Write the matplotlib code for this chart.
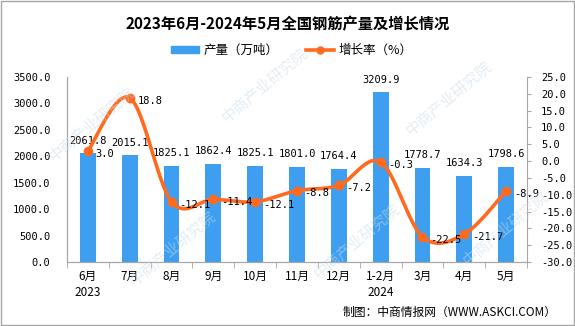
import matplotlib
matplotlib.use("Agg")
import matplotlib.pyplot as plt
from matplotlib.lines import Line2D
from matplotlib.patches import Patch, Rectangle
import numpy as np

plt.rcParams['font.family'] = ['Noto Sans CJK SC', 'DejaVu Sans']
plt.rcParams['axes.unicode_minus'] = False

# data
months = ["6月\n2023", "7月", "8月", "9月", "10月", "11月", "12月",
          "1-2月\n2024", "3月", "4月", "5月"]
output = [2061.8, 2015.1, 1825.1, 1862.4, 1825.1, 1801.0, 1764.4,
          3209.9, 1778.7, 1634.3, 1798.6]
growth = [3.0, 18.8, -12.1, -11.4, -12.1, -8.8, -7.2, -0.3, -22.5, -21.7, -8.9]

BLUE = "#3E9FF0"
ORANGE = "#FF6A1F"
GRAY = "#A6A6A6"
NUM_FONT = ['DejaVu Sans Mono', 'DejaVu Sans']


def smooth_curve(xs, ys, steps=30):
    """Catmull-Rom style bezier through the points (like Excel's smoothed line)."""
    pts = np.column_stack([xs, ys]).astype(float)
    out = []
    n = len(pts)
    for i in range(n - 1):
        p0 = pts[max(i - 1, 0)]
        p1 = pts[i]
        p2 = pts[i + 1]
        p3 = pts[min(i + 2, n - 1)]
        c1 = p1 + (p2 - p0) / 6.0
        c2 = p2 - (p3 - p1) / 6.0
        t = np.linspace(0, 1, steps)[:, None]
        seg = ((1 - t) ** 3) * p1 + 3 * ((1 - t) ** 2) * t * c1 \
            + 3 * (1 - t) * t ** 2 * c2 + t ** 3 * p2
        out.append(seg if i == 0 else seg[1:])
    seg = np.vstack(out)
    return seg[:, 0], seg[:, 1]


fig = plt.figure(figsize=(5.75, 3.26), dpi=100)

# watermark (behind everything)
for wx, wy in [(0.16, 0.62), (0.46, 0.74), (0.78, 0.70),
               (0.30, 0.24), (0.62, 0.26), (0.88, 0.30)]:
    fig.text(wx, wy, "中商产业研究院", rotation=40, fontsize=11, color="#C9DCEC",
             alpha=0.5, ha="center", va="center", zorder=0)

ax = fig.add_axes([67 / 575, 1 - 262 / 326, 460 / 575, 185 / 326])
ax.patch.set_alpha(0)
ax2 = ax.twinx()

x = np.arange(len(months))
ax.bar(x, output, width=0.38, color=BLUE, zorder=2)
ax.set_xlim(-0.5, len(months) - 0.5)
ax.set_ylim(0, 3500)
ax.set_yticks(np.arange(0, 3501, 500))
ax.set_yticklabels([f"{v:.1f}" for v in np.arange(0, 3501, 500)], family=NUM_FONT)

sx, sy = smooth_curve(x, growth)
ax2.plot(sx, sy, color=ORANGE, lw=2.6, zorder=3, solid_capstyle="round")
ax2.plot(x, growth, "o", color=ORANGE, ms=6, zorder=4)
ax2.set_ylim(-30, 25)
ax2.set_yticks(np.arange(-30, 26, 5))
ax2.set_yticklabels([f"{v:.1f}" for v in np.arange(-30, 26, 5)], family=NUM_FONT)

# value labels
for xi, v in zip(x, output):
    ax.annotate(f"{v:.1f}", (xi, v), xytext=(0, 9), textcoords="offset points",
                ha="center", va="center", fontsize=7.5, family=NUM_FONT, zorder=5)
for xi, g in zip(x, growth):
    ax2.annotate(f"{g:.1f}", (xi, g), xytext=(5.5, -2), textcoords="offset points",
                 ha="left", va="center", fontsize=7.5, family=NUM_FONT, zorder=5)

# axes styling
ax.spines["top"].set_visible(False)
ax2.spines["top"].set_visible(False)
ax.spines["right"].set_visible(False)
for side in ("left", "right", "bottom"):
    ax2.spines[side].set_color(GRAY)
    ax.spines[side].set_color(GRAY)

ax.set_xticks(x)
ax.set_xticklabels(months, fontsize=8.5, linespacing=1.25)
ax.tick_params(axis="x", length=0, pad=6)
ax.set_xticks(np.arange(-0.5, len(months), 1), minor=True)
ax.tick_params(axis="x", which="minor", length=4, color=GRAY)
ax.tick_params(axis="y", length=0, pad=12, labelsize=7.5)
ax2.tick_params(axis="y", length=3, color=GRAY, pad=7, labelsize=7.5)

# title and legend
fig.text(0.5, 1 - 24 / 326, "2023年6月-2024年5月全国钢筋产量及增长情况",
         ha="center", va="center", fontsize=11, fontweight="bold")
handles = [Patch(color=BLUE), Line2D([], [], color=ORANGE, lw=2.6, marker="o", ms=5)]
fig.legend(handles, ["产量（万吨）", "增长率（%）"], loc="center",
           bbox_to_anchor=(0.508, 1 - 50 / 326), ncol=2, frameon=False,
           fontsize=9, handlelength=2.2, handleheight=0.5,
           columnspacing=2.2, handletextpad=0.4)

fig.text(557 / 575, 1 - 312 / 326, "制图：中商情报网（WWW.ASKCI.COM）",
         ha="right", va="center", fontsize=8.5)

fig.patches.append(Rectangle((0.002, 0.004), 0.996, 0.992, transform=fig.transFigure,
                             fill=False, edgecolor=GRAY, lw=1.0))

fig.savefig("out.png", dpi=100)
